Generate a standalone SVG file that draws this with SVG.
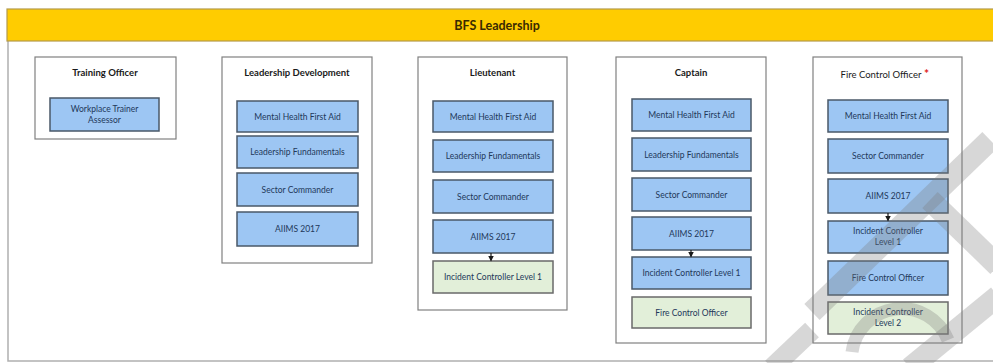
<svg xmlns="http://www.w3.org/2000/svg" width="993" height="363" viewBox="0 0 993 363">
<defs>
<style>
.frame{fill:none;stroke:#b0b0b0;stroke-width:1.5}
.bar{fill:#ffcc00;stroke:#b49a4a;stroke-width:1.2}
.bartxt{font-family:Lato,"Liberation Sans",sans-serif;font-size:12.5px;font-weight:bold;fill:#3a2a00;text-anchor:middle}
.col{fill:#ffffff;stroke:#808080;stroke-width:1.2}
.blue{fill:#9dc6f3;stroke:#4a5868;stroke-width:1.5}
.green{fill:#e2efd9;stroke:#6a6a6a;stroke-width:1.5}
.lbl{font-family:Lato,"Liberation Sans",sans-serif;font-size:8.5px;fill:#22385a;text-anchor:middle}
.ttl{font-family:Lato,"Liberation Sans",sans-serif;font-size:9.5px;font-weight:bold;fill:#1a1a1a;text-anchor:middle}
.ttlr{font-family:Lato,"Liberation Sans",sans-serif;font-size:9.5px;fill:#1a1a1a;text-anchor:middle}
.conn{stroke:#1a1a1a;stroke-width:1.2;fill:none}
.wm{stroke:#7a7a7a;stroke-opacity:0.3;fill:none;stroke-linecap:butt}
</style>
<marker id="arr" markerWidth="6" markerHeight="6" refX="5" refY="3" orient="auto" markerUnits="userSpaceOnUse">
<path d="M0,0 L6,3 L0,6 Z" fill="#1a1a1a"/>
</marker>
</defs>
<rect x="0" y="0" width="993" height="363" fill="#ffffff"/>
<path class="frame" d="M8,9 V361 H993"/>
<g id="title">
<rect class="bar" x="7" y="9" width="992" height="32"/>
<text class="bartxt" x="497" y="30">BFS Leadership</text>
</g>

<g id="col-training-officer">
<rect class="col" x="35" y="57" width="141" height="82"/>
<text class="ttl" x="105" y="76">Training Officer</text>
</g>
<g id="n-workplace-trainer">
<rect class="blue" x="50" y="98" width="109" height="33"/>
<text class="lbl" x="104.5" y="112">Workplace Trainer</text>
<text class="lbl" x="104.5" y="123">Assessor</text>
</g>

<g id="col-leadership-development">
<rect class="col" x="222" y="57" width="150" height="206"/>
<text class="ttl" x="297" y="76">Leadership Development</text>
</g>
<g id="ld-mhfa"><rect class="blue" x="237" y="101" width="121" height="31"/><text class="lbl" x="297.5" y="119.5">Mental Health First Aid</text></g>
<g id="ld-lf"><rect class="blue" x="237" y="136" width="121" height="32"/><text class="lbl" x="297.5" y="155">Leadership Fundamentals</text></g>
<g id="ld-sc"><rect class="blue" x="237" y="173" width="121" height="33"/><text class="lbl" x="297.5" y="192.5">Sector Commander</text></g>
<g id="ld-aiims"><rect class="blue" x="237" y="212" width="121" height="34"/><text class="lbl" x="297.5" y="232">AIIMS 2017</text></g>

<g id="col-lieutenant">
<rect class="col" x="418" y="57" width="149" height="253"/>
<text class="ttl" x="492.5" y="76">Lieutenant</text>
</g>
<g id="lt-mhfa"><rect class="blue" x="433" y="101" width="120" height="31"/><text class="lbl" x="493" y="119.5">Mental Health First Aid</text></g>
<g id="lt-lf"><rect class="blue" x="433" y="140" width="120" height="32"/><text class="lbl" x="493" y="159">Leadership Fundamentals</text></g>
<g id="lt-sc"><rect class="blue" x="433" y="180" width="120" height="33"/><text class="lbl" x="493" y="199.5">Sector Commander</text></g>
<g id="lt-aiims"><rect class="blue" x="433" y="220" width="120" height="33"/><text class="lbl" x="493" y="239.5">AIIMS 2017</text></g>
<g id="lt-ic1"><rect class="green" x="433" y="261" width="120" height="32"/><text class="lbl" x="493" y="280">Incident Controller Level 1</text></g>

<g id="col-captain">
<rect class="col" x="616" y="57" width="150" height="286"/>
<text class="ttl" x="691" y="76">Captain</text>
</g>
<g id="cp-mhfa"><rect class="blue" x="632" y="99" width="119" height="32"/><text class="lbl" x="691.5" y="118">Mental Health First Aid</text></g>
<g id="cp-lf"><rect class="blue" x="632" y="138" width="119" height="33"/><text class="lbl" x="691.5" y="157.5">Leadership Fundamentals</text></g>
<g id="cp-sc"><rect class="blue" x="632" y="178" width="119" height="33"/><text class="lbl" x="691.5" y="197.5">Sector Commander</text></g>
<g id="cp-aiims"><rect class="blue" x="632" y="217" width="119" height="33"/><text class="lbl" x="691.5" y="236.5">AIIMS 2017</text></g>
<g id="cp-ic1"><rect class="blue" x="632" y="257" width="119" height="32"/><text class="lbl" x="691.5" y="276">Incident Controller Level 1</text></g>
<g id="cp-fco"><rect class="green" x="632" y="297" width="119" height="31"/><text class="lbl" x="691.5" y="315.5">Fire Control Officer</text></g>

<g id="col-fire-control-officer">
<rect class="col" x="813" y="57" width="149" height="286"/>
<text class="ttlr" x="881" y="78">Fire Control Officer</text>
<text x="924" y="78" font-family="Lato,'Liberation Sans',sans-serif" font-size="12px" font-weight="bold" fill="#e02020">*</text>
</g>
<g id="fc-mhfa"><rect class="blue" x="828" y="100" width="120" height="32"/><text class="lbl" x="888" y="119">Mental Health First Aid</text></g>
<g id="fc-sc"><rect class="blue" x="828" y="139" width="120" height="34"/><text class="lbl" x="888" y="159">Sector Commander</text></g>
<g id="fc-aiims"><rect class="blue" x="828" y="179" width="120" height="34"/><text class="lbl" x="888" y="199">AIIMS 2017</text></g>
<g id="fc-ic1"><rect class="blue" x="828" y="221" width="120" height="32"/><text class="lbl" x="888" y="234">Incident Controller</text><text class="lbl" x="888" y="245">Level 1</text></g>
<g id="fc-fco"><rect class="blue" x="828" y="261" width="120" height="34"/><text class="lbl" x="888" y="281">Fire Control Officer</text></g>
<g id="fc-ic2"><rect class="green" x="828" y="302" width="120" height="32"/><text class="lbl" x="888" y="315">Incident Controller</text><text class="lbl" x="888" y="326">Level 2</text></g>

<g id="connectors">
<line class="conn" x1="491" y1="253" x2="491" y2="260.5" marker-end="url(#arr)"/>
<line class="conn" x1="691" y1="250" x2="691" y2="256.5" marker-end="url(#arr)"/>
<line class="conn" x1="888" y1="213" x2="888" y2="220.5" marker-end="url(#arr)"/>
</g>

<g id="watermark">
<line class="wm" stroke-width="22" x1="990" y1="140" x2="812" y2="312"/>
<line class="wm" stroke-width="22" x1="930" y1="200" x2="998" y2="266"/>
<path class="wm" stroke-width="13" d="M852,352 A50,50 0 0 1 948,340"/>
<line class="wm" stroke-width="20" x1="772" y1="368" x2="812" y2="330"/>
<line class="wm" stroke-width="22" x1="910" y1="368" x2="998" y2="296"/>
</g>
</svg>
